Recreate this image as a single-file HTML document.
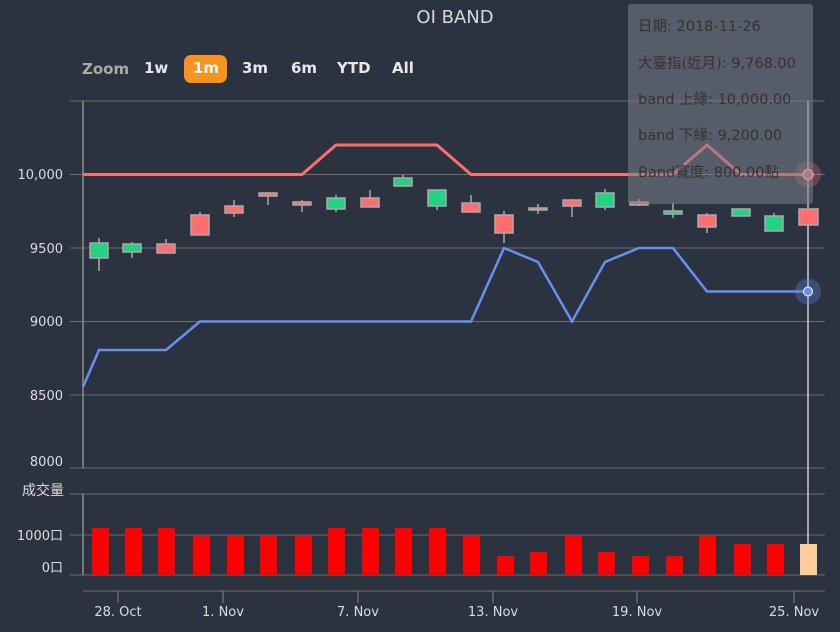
<!DOCTYPE html>
<html><head><meta charset="utf-8"><style>
html,body{margin:0;padding:0;background:#2a333f;}
svg{display:block;font-family:"DejaVu Sans","Noto Sans CJK TC",sans-serif;}
</style></head><body>
<svg width="840" height="632" viewBox="0 0 840 632">
<rect width="840" height="632" fill="#2a333f"/>
<text x="455" y="23" font-size="18" fill="#d8d8d8" text-anchor="middle">OI BAND</text>
<g font-size="15" font-weight="bold" fill="#e8e8e8">
<text x="82" y="74" fill="#aaaaaa">Zoom</text>
<text x="144" y="73">1w</text>
<rect x="184" y="55" width="43" height="28" rx="7" fill="#f7931e"/>
<text x="193" y="73" fill="#fff">1m</text>
<text x="242" y="73">3m</text>
<text x="291" y="73">6m</text>
<text x="337" y="73">YTD</text>
<text x="392" y="73">All</text>
</g>
<!-- grid -->
<g stroke="#6e6e6e" stroke-width="1">
<line x1="70" y1="101" x2="825" y2="101"/>
<line x1="70" y1="174.5" x2="825" y2="174.5"/>
<line x1="70" y1="248" x2="825" y2="248"/>
<line x1="70" y1="321.5" x2="825" y2="321.5"/>
<line x1="70" y1="395" x2="825" y2="395"/>
<line x1="70" y1="468" x2="825" y2="468"/>
<line x1="70" y1="494" x2="825" y2="494"/>
<line x1="70" y1="535" x2="825" y2="535"/>
<line x1="70" y1="575" x2="825" y2="575"/>
<line x1="83" y1="591" x2="825" y2="591"/>
</g>
<g stroke="#777" stroke-width="2"><line x1="83" y1="101" x2="83" y2="468"/><line x1="83" y1="494" x2="83" y2="575"/></g>
<g font-size="13" fill="#dddddd" text-anchor="end">
<text x="63" y="179">10,000</text><text x="63" y="253">9500</text><text x="63" y="326">9000</text><text x="63" y="400">8500</text><text x="63" y="466">8000</text>
<text x="63" y="540">1000口</text><text x="63" y="572">0口</text>
</g>
<text x="22" y="495" font-size="14" fill="#dddddd">成交量</text>
<g stroke="#888" stroke-width="1">
<line x1="118" y1="591" x2="118" y2="603"/><line x1="223" y1="591" x2="223" y2="603"/><line x1="358" y1="591" x2="358" y2="603"/><line x1="493" y1="591" x2="493" y2="603"/><line x1="637" y1="591" x2="637" y2="603"/><line x1="794" y1="591" x2="794" y2="603"/>
</g>
<g font-size="13" fill="#dddddd" text-anchor="middle">
<text x="118" y="616">28. Oct</text><text x="223" y="616">1. Nov</text><text x="358" y="616">7. Nov</text><text x="493" y="616">13. Nov</text><text x="637" y="616">19. Nov</text><text x="794" y="616">25. Nov</text>
</g>
<!-- volume bars -->
<g fill="#ff0000">
<rect x="92" y="528" width="17" height="47"/><rect x="125" y="528" width="17" height="47"/><rect x="158" y="528" width="17" height="47"/>
<rect x="193" y="536" width="17" height="39"/><rect x="227" y="536" width="17" height="39"/><rect x="260" y="536" width="17" height="39"/><rect x="295" y="536" width="17" height="39"/>
<rect x="328" y="528" width="17" height="47"/><rect x="362" y="528" width="17" height="47"/><rect x="395" y="528" width="17" height="47"/><rect x="429" y="528" width="17" height="47"/>
<rect x="463" y="536" width="17" height="39"/><rect x="497" y="556" width="17" height="19"/><rect x="530" y="552" width="17" height="23"/>
<rect x="565" y="536" width="17" height="39"/><rect x="598" y="552" width="17" height="23"/><rect x="632" y="556" width="17" height="19"/><rect x="666" y="556" width="17" height="19"/>
<rect x="699" y="536" width="17" height="39"/><rect x="734" y="544" width="17" height="31"/><rect x="767" y="544" width="17" height="31"/>
</g>
<line x1="808" y1="101" x2="808" y2="575" stroke="#cccccc" stroke-width="1.5"/>
<rect x="800" y="544" width="17" height="31" fill="#ffcc99"/>
<!-- candles -->
<g stroke="#aaaaaa" stroke-width="1.5">
<line x1="99" y1="238" x2="99" y2="271"/><rect x="90" y="243" width="18" height="15" fill="#22d383"/>
<line x1="132" y1="242" x2="132" y2="258"/><rect x="123" y="244" width="18" height="8" fill="#22d383"/>
<line x1="166" y1="239" x2="166" y2="253"/><rect x="157" y="244" width="18" height="9" fill="#ff6e6e"/>
<line x1="200" y1="212" x2="200" y2="235"/><rect x="191" y="215" width="18" height="20" fill="#ff6e6e"/>
<line x1="234" y1="200" x2="234" y2="217"/><rect x="225" y="206" width="18" height="7" fill="#ff6e6e"/>
<line x1="268" y1="192" x2="268" y2="205"/><rect x="259" y="193" width="18" height="3" fill="#ff6e6e"/>
<line x1="302" y1="200" x2="302" y2="212"/><rect x="293" y="202" width="18" height="3" fill="#ff6e6e"/>
<line x1="336" y1="195" x2="336" y2="212"/><rect x="327" y="198" width="18" height="11" fill="#22d383"/>
<line x1="370" y1="190" x2="370" y2="207"/><rect x="361" y="198" width="18" height="9" fill="#ff6e6e"/>
<line x1="403" y1="175" x2="403" y2="187"/><rect x="394" y="178" width="18" height="8" fill="#22d383"/>
<line x1="437" y1="190" x2="437" y2="210"/><rect x="428" y="190" width="18" height="16" fill="#22d383"/>
<line x1="471" y1="195" x2="471" y2="212"/><rect x="462" y="203" width="18" height="9" fill="#ff6e6e"/>
<line x1="504" y1="211" x2="504" y2="243"/><rect x="495" y="215" width="18" height="18" fill="#ff6e6e"/>
<line x1="538" y1="204" x2="538" y2="214"/><rect x="529" y="208" width="18" height="2" fill="#ff6e6e"/>
<line x1="572" y1="199" x2="572" y2="217"/><rect x="563" y="200" width="18" height="6" fill="#ff6e6e"/>
<line x1="605" y1="189" x2="605" y2="210"/><rect x="596" y="193" width="18" height="14" fill="#22d383"/>
<line x1="639" y1="199" x2="639" y2="206"/><rect x="630" y="202" width="18" height="3" fill="#ff6e6e"/>
<line x1="673" y1="203" x2="673" y2="218"/><rect x="664" y="211" width="18" height="3" fill="#22d383"/>
<line x1="707" y1="213" x2="707" y2="233"/><rect x="698" y="215" width="18" height="12" fill="#ff6e6e"/>
<line x1="741" y1="208" x2="741" y2="217"/><rect x="732" y="209" width="18" height="7" fill="#22d383"/>
<line x1="774" y1="213" x2="774" y2="231"/><rect x="765" y="216" width="18" height="15" fill="#22d383"/>
<line x1="808" y1="198" x2="808" y2="225"/><rect x="799" y="209" width="19" height="16" fill="#ff6e6e"/>
</g>
<polyline fill="none" stroke="#ff6e6e" stroke-width="3" points="83,174.5 302,174.5 336,145 437,145 471,174.5 673,174.5 707,145 741,174.5 808,174.5"/>
<polyline fill="none" stroke="#6b8ff0" stroke-width="2.5" points="83,387 99,350 166,350 200,321.5 471,321.5 504,248 538,262 572,321.5 605,262 639,248 673,248 707,291.5 808,291.5"/>
<circle cx="808" cy="174.5" r="13" fill="#ff6e6e" opacity="0.3"/><circle cx="808" cy="174.5" r="5" fill="#ff6e6e" stroke="#fff" stroke-width="1"/>
<circle cx="808" cy="291.5" r="13" fill="#6b8ff0" opacity="0.3"/><circle cx="808" cy="291.5" r="4.5" fill="#6b8ff0" stroke="#fff" stroke-width="1"/>
<!-- tooltip -->
<rect x="628" y="4" width="185" height="200" rx="3" fill="#7a808a" opacity="0.55"/>
<g font-size="14.5" fill="#333">
<text x="638" y="31">日期: 2018-11-26</text>
<text x="638" y="68">大臺指(近月): 9,768.00</text>
<text x="638" y="104">band 上緣: 10,000.00</text>
<text x="638" y="140">band 下緣: 9,200.00</text>
<text x="638" y="177">Band寬度: 800.00點</text>
</g>
</svg>
</body></html>
